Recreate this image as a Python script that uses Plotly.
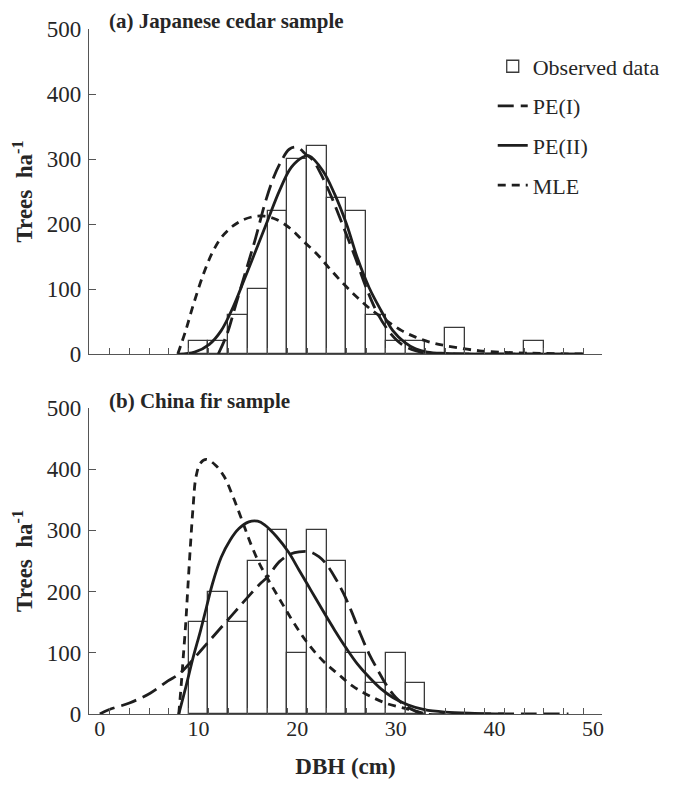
import plotly.graph_objects as go
from plotly.subplots import make_subplots

# (a) Japanese cedar sample
obs_a_x = [10, 12, 14, 16, 18, 20, 22, 24, 26, 28, 30, 32, 34, 36, 38, 40, 42, 44]
obs_a = [20, 20, 60, 100, 220, 300, 320, 240, 220, 60, 20, 20, 0, 40, 0, 0, 0, 20]

pe1_a_x = [12.0, 12.9, 13.8, 14.9, 15.8, 16.7, 17.6, 18.4, 19.2, 20.0, 20.9, 21.6, 22.6, 23.5,
           24.7, 25.9, 27.0, 28.2, 29.4, 30.6, 32.0, 33.2, 36, 40, 45, 49]
pe1_a = [0, 31, 77, 133, 179, 230, 271, 297, 315, 318, 307, 298, 271, 241,
         195, 148, 102, 61, 33, 15, 5, 1, 0, 0, 0, 0]

pe2_a_x = [8.0, 9.6, 11.1, 12.3, 13.5, 14.6, 15.8, 17.0, 18.2, 19.4, 20.6, 21.2, 22.6, 23.8,
           25.0, 26.1, 27.3, 28.5, 29.7, 30.9, 32.0, 33.2, 35, 38, 42, 49]
pe2_a = [0, 3, 15, 36, 72, 113, 159, 205, 251, 287, 303, 305, 282, 246,
         200, 148, 102, 67, 36, 18, 8, 3, 1, 0, 0, 0]

mle_a_x = [7.9, 8.7, 9.5, 10.5, 11.4, 12.3, 13.5, 14.6, 15.8, 16.7, 17.9, 19.4, 20.6, 22.0,
           23.2, 24.7, 26.1, 27.6, 29.1, 30.6, 32.0, 33.5, 35.0, 38.5, 42, 45, 49.3]
mle_a = [0, 36, 77, 123, 156, 179, 197, 207, 212, 212, 207, 192, 174, 154,
         133, 108, 87, 67, 51, 36, 26, 18, 13, 5, 2, 1, 0]

# (b) China fir sample
obs_b_x = [10, 12, 14, 16, 18, 20, 22, 24, 26, 28, 30, 32]
obs_b = [150, 200, 150, 250, 300, 100, 300, 250, 100, 50, 100, 50]

pe1_b_x = [0, 0.9, 3.0, 5.1, 6.9, 8.0, 9.0, 10.2, 11.4, 12.6, 13.8, 15.0, 16.2, 17.0, 18.2,
           19.4, 20.2, 21.3, 22.2, 22.9, 23.8, 24.7, 25.6, 26.4, 27.3, 28.2, 29.1, 30.0,
           31.2, 32.3, 32.9, 38, 43, 47.5]
pe1_b = [0, 7, 18, 34, 54, 65, 81, 103, 125, 147, 169, 191, 212, 224, 249,
         262, 265, 265, 257, 246, 224, 197, 164, 131, 98, 71, 46, 27,
         11, 3, 0, 0, 0, 0]

pe2_b_x = [8.0, 8.7, 9.45, 10.2, 10.8, 11.4, 12.3, 13.2, 14.1, 15.1, 16.0, 16.7, 17.9, 19.1,
           20.2, 21.4, 22.6, 23.8, 25.0, 26.1, 27.3, 28.5, 29.7, 31.2, 32.9, 35, 38, 41]
pe2_b = [0, 43, 92, 136, 174, 212, 256, 284, 303, 314, 315, 309, 290, 265,
         235, 202, 169, 137, 107, 82, 60, 41, 27, 15, 7, 3, 1, 0]

mle_b_x = [8.0, 8.25, 8.45, 8.7, 8.9, 9.15, 9.45, 9.75, 10.2, 10.8, 11.7, 12.6, 13.5, 14.4,
           15.3, 16.2, 17.3, 18.5, 19.7, 21.1, 22.6, 24.1, 25.6, 27.3, 29.1, 31.2, 32.9]
mle_b = [0, 48, 92, 147, 201, 267, 338, 388, 410, 416, 407, 388, 355, 317,
         278, 245, 213, 180, 148, 115, 87, 66, 46, 30, 17, 8, 1]

x_labels = [0, 10, 20, 30, 40, 50]
y_ticks = [0, 100, 200, 300, 400, 500]

FONT = "Liberation Serif, Times New Roman, DejaVu Serif, serif"
INK = "#1e1e1e"
TXT = "#262626"
AXIS = "#555555"

fig = make_subplots(rows=2, cols=1)

panels = [
    (1, obs_a_x, obs_a, pe1_a_x, pe1_a, pe2_a_x, pe2_a, mle_a_x, mle_a),
    (2, obs_b_x, obs_b, pe1_b_x, pe1_b, pe2_b_x, pe2_b, mle_b_x, mle_b),
]

for row, ox, oy, p1x, p1y, p2x, p2y, mx, my in panels:
    first = row == 1
    fig.add_trace(go.Bar(x=ox, y=oy, width=2, name="Observed data",
                         marker=dict(color="white", line=dict(color="#3a3a3a", width=1.3)),
                         showlegend=first, legendgroup="obs"), row=row, col=1)
    fig.add_trace(go.Scatter(x=p1x, y=p1y, mode="lines", name="PE(I)",
                             line=dict(color=INK, width=2.8, dash="16px,7px", shape="spline"),
                             showlegend=first, legendgroup="pe1"), row=row, col=1)
    fig.add_trace(go.Scatter(x=p2x, y=p2y, mode="lines", name="PE(II)",
                             line=dict(color=INK, width=2.8, shape="spline"),
                             showlegend=first, legendgroup="pe2"), row=row, col=1)
    fig.add_trace(go.Scatter(x=mx, y=my, mode="lines", name="MLE",
                             line=dict(color=INK, width=2.8, dash="8px,6px", shape="spline"),
                             showlegend=first, legendgroup="mle"), row=row, col=1)

xaxis_common = dict(
    range=[-1.1, 50.9], showline=True, linecolor=AXIS, linewidth=1.2,
    showgrid=False, zeroline=False, automargin=False,
    tickvals=x_labels, ticks="inside", ticklen=0, tickcolor=AXIS,
    ticklabelstandoff=-6,
    minor=dict(tickvals=list(range(1, 50, 2)), ticks="inside", ticklen=6,
               tickcolor=AXIS, tickwidth=1),
    tickfont=dict(family=FONT, size=22, color=TXT),
)
yaxis_common = dict(
    range=[0, 500], showline=True, linecolor=AXIS, linewidth=1.2,
    showgrid=False, zeroline=False, automargin=False,
    tickvals=y_ticks, ticks="inside", ticklen=7, tickcolor=AXIS,
    ticklabelstandoff=2,
    tickfont=dict(family=FONT, size=23, color=TXT),
    title=dict(text="Trees  ha<sup>-1</sup>", standoff=7,
               font=dict(family=FONT, size=23, color=TXT, weight="bold")),
)

# the page body keeps its default 8px margin, so the figure is 8px smaller
fig.update_layout(
    width=672, height=780,
    margin=dict(l=81, r=78, t=21, b=74),
    paper_bgcolor="white", plot_bgcolor="white",
    barmode="overlay", bargap=0,
    xaxis=dict(xaxis_common, domain=[0, 1], anchor="y", showticklabels=False),
    yaxis=dict(yaxis_common, domain=[0.5255, 1.0], anchor="x"),
    xaxis2=dict(xaxis_common, domain=[0, 1], anchor="y2",
                title=dict(text="DBH (cm)", standoff=18,
                           font=dict(family=FONT, size=23, color=TXT, weight="bold"))),
    yaxis2=dict(yaxis_common, domain=[0, 0.4467], anchor="x2"),
    legend=dict(x=0.787, y=0.976, xanchor="left", yanchor="top",
                bgcolor="rgba(0,0,0,0)", tracegroupgap=8,
                font=dict(family=FONT, size=22, color=TXT)),
    showlegend=True,
)

fig.add_annotation(text="(a) Japanese cedar sample", xref="paper", yref="paper",
                   x=0.035, y=1.011, xanchor="left", yanchor="middle", showarrow=False,
                   font=dict(family=FONT, size=21, color=TXT, weight="bold"))
fig.add_annotation(text="(b) China fir sample", xref="paper", yref="paper",
                   x=0.035, y=0.457, xanchor="left", yanchor="middle", showarrow=False,
                   font=dict(family=FONT, size=21, color=TXT, weight="bold"))

fig.write_html("out.html")
